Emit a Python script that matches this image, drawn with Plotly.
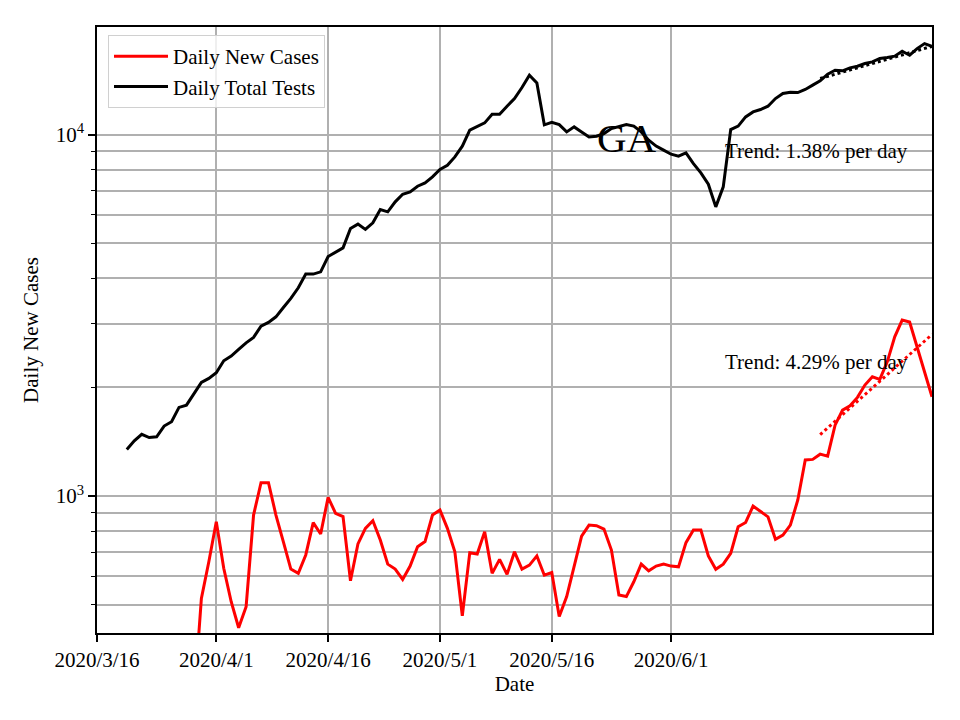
import pandas as pd
import plotly.graph_objects as go

# ---- data ----
tests_start = "2020-03-20"
daily_total_tests = [
    1346, 1422, 1482, 1452, 1459, 1562, 1606, 1759, 1785, 1915,
    2063, 2116, 2193, 2368, 2439, 2545, 2655, 2748, 2953, 3023,
    3133, 3325, 3523, 3770, 4113, 4113, 4173, 4600, 4720, 4862,
    5502, 5655, 5467, 5703, 6209, 6116, 6519, 6844, 6947, 7202,
    7357, 7643, 8011, 8233, 8680, 9292, 10290, 10510, 10780, 11390,
    11390, 11990, 12590, 13510, 14610, 13910, 10650, 10820, 10660, 10180,
    10510, 10180, 9860, 9900, 10070, 10400, 10560, 10670, 10560, 10180,
    9656, 9300, 9060, 8830, 8720, 8906, 8318, 7843, 7296, 6314,
    7170, 10330, 10560, 11200, 11560, 11740, 11990, 12590, 13000, 13110,
    13080, 13340, 13710, 14090, 14710, 15080, 15020, 15310, 15470, 15740,
    15900, 16250, 16350, 16490, 17020, 16590, 17310, 17870, 17570,
]

cases_start = "2020-03-29"
daily_new_cases = [
    270, 521, 658, 849, 631, 510, 432, 494, 886, 1089,
    1089, 886, 747, 628, 611, 687, 844, 785, 992, 896,
    877, 583, 737, 814, 855, 756, 648, 628, 588, 640,
    724, 748, 886, 915, 814, 701, 466, 697, 691, 797,
    611, 668, 607, 701, 628, 644, 683, 604, 614, 464,
    527, 644, 775, 831, 828, 810, 709, 532, 527, 579,
    648, 621, 640, 648, 640, 637, 743, 805, 805, 683,
    627, 648, 694, 822, 845, 938, 905, 876, 759, 780,
    831, 975, 1258, 1263, 1306, 1290, 1571, 1729, 1777, 1875,
    2028, 2138, 2103, 2352, 2759, 3068, 3030, 2588, 2206, 1882,
]

trend_dates = ["2020-06-21", "2020-07-06"]
cases_trend = [1480, 2800]
tests_trend = [14300, 17560]

x_tick_vals = ["2020-03-16", "2020-04-01", "2020-04-16", "2020-05-01", "2020-05-16", "2020-06-01"]
x_tick_text = ["2020/3/16", "2020/4/1", "2020/4/16", "2020/5/1", "2020/5/16", "2020/6/1"]
y_major = [1000, 10000]
y_major_text = ["10<sup>3</sup>", "10<sup>4</sup>"]
y_minor = [500, 600, 700, 800, 900, 2000, 3000, 4000, 5000, 6000, 7000, 8000, 9000]

tests_dates = pd.date_range(tests_start, periods=len(daily_total_tests), freq="D")
cases_dates = pd.date_range(cases_start, periods=len(daily_new_cases), freq="D")

FONT = "Liberation Serif"
GRID = "#b0b0b0"

fig = go.Figure()
fig.add_trace(go.Scatter(x=cases_dates, y=daily_new_cases, mode="lines",
                         name="Daily New Cases", line=dict(color="red", width=3)))
fig.add_trace(go.Scatter(x=tests_dates, y=daily_total_tests, mode="lines",
                         name="Daily Total Tests", line=dict(color="black", width=3)))
fig.add_trace(go.Scatter(x=trend_dates, y=cases_trend, mode="lines", showlegend=False,
                         line=dict(color="red", width=3, dash="dot")))
fig.add_trace(go.Scatter(x=trend_dates, y=tests_trend, mode="lines", showlegend=False,
                         line=dict(color="black", width=3, dash="dot")))

# page has an 8px body offset; target plot area is x 97..932, y 27..633 on screen
OFF = 8
W, H = 952, 712
L, R, T, B = 97 - OFF, 28, 27 - OFF, 87
pw, ph = W - L - R, H - T - B

def px(x):
    return (x - OFF - L) / pw

def py(y):
    return (H - B - (y - OFF)) / ph

fig.add_annotation(text="GA", x=px(627), y=py(138), xref="paper", yref="paper",
                   showarrow=False, xanchor="center", yanchor="middle",
                   font=dict(family=FONT, size=41, color="black"))
fig.add_annotation(text="Trend: 1.38% per day", x=px(723), y=py(151), xref="paper", yref="paper",
                   showarrow=False, xanchor="left", yanchor="middle",
                   font=dict(family=FONT, size=21, color="black"))
fig.add_annotation(text="Trend: 4.29% per day", x=px(723), y=py(362), xref="paper", yref="paper",
                   showarrow=False, xanchor="left", yanchor="middle",
                   font=dict(family=FONT, size=21, color="black"))

fig.update_layout(
    width=W, height=H,
    margin=dict(l=L, r=R, t=T, b=B, pad=0),
    paper_bgcolor="white", plot_bgcolor="white",
    font=dict(family=FONT, size=21, color="black"),
    showlegend=True,
    legend=dict(x=px(108), y=py(35), xanchor="left", yanchor="top",
                bgcolor="rgba(255,255,255,0.8)", bordercolor="#d0d0d0", borderwidth=1,
                itemwidth=54,
                font=dict(family=FONT, size=21, color="black"), tracegroupgap=0),
    xaxis=dict(
        type="date", range=["2020-03-16", "2020-07-06"],
        tickmode="array", tickvals=x_tick_vals, ticktext=x_tick_text,
        showgrid=True, gridcolor=GRID, gridwidth=1.6,
        showline=True, linecolor="black", linewidth=1.6, mirror=True,
        ticks="outside", ticklen=7, tickwidth=1.6, tickcolor="black",
        zeroline=False,
        title=dict(text="Date", font=dict(family=FONT, size=21), standoff=5),
        tickfont=dict(family=FONT, size=21),
    ),
    yaxis=dict(
        type="log", range=[2.621, 4.298],
        tickmode="array", tickvals=y_major, ticktext=y_major_text,
        showgrid=True, gridcolor=GRID, gridwidth=1.6,
        showline=True, linecolor="black", linewidth=1.6, mirror=True,
        ticks="outside", ticklen=7, tickwidth=1.6, tickcolor="black",
        zeroline=False,
        minor=dict(tickmode="array", tickvals=y_minor, ticks="outside", ticklen=4,
                   tickwidth=1.2, tickcolor="black", showgrid=True,
                   gridcolor=GRID, gridwidth=1.6),
        title=dict(text="Daily New Cases", font=dict(family=FONT, size=21), standoff=11),
        tickfont=dict(family=FONT, size=21),
    ),
)

fig.write_html("out.html")
